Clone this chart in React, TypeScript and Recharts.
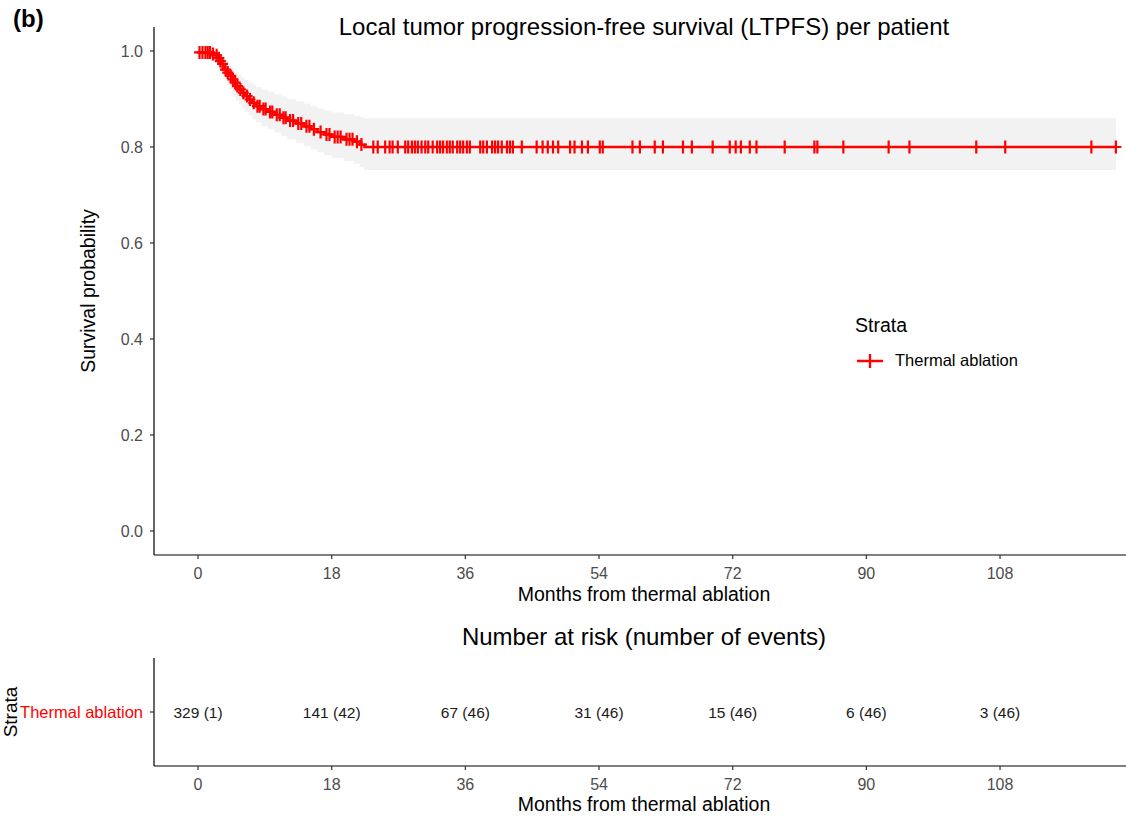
import { ComposedChart, Line, Area, Scatter, XAxis, YAxis } from 'recharts'

const FONT = '"Liberation Sans", Arial, Helvetica, sans-serif'
const RED = '#ff0000'
const TICK_GREY = '#4d4d4d'

// Kaplan-Meier steps (months, survival, CI upper, CI lower)
const stepTimes = [0, 1.8, 2.3, 2.6, 2.9, 3.2, 3.4, 3.6, 3.9, 4.2, 4.5, 4.8, 5.1, 5.5, 5.9, 6.3, 6.8, 7.3, 7.8, 8.5, 9.4, 10.3, 11.2, 12.0, 13.2, 14.3, 15.2, 16.1, 17.0, 18.0, 19.6, 21.0, 21.8, 22.4]
const survival = [0.997, 0.994, 0.991, 0.985, 0.979, 0.973, 0.967, 0.961, 0.955, 0.948, 0.941, 0.934, 0.927, 0.920, 0.913, 0.906, 0.899, 0.892, 0.885, 0.879, 0.873, 0.867, 0.861, 0.855, 0.849, 0.843, 0.837, 0.831, 0.826, 0.821, 0.816, 0.811, 0.805, 0.800]
const upperCI = [1.0, 1.0, 0.999, 0.997, 0.994, 0.990, 0.986, 0.982, 0.977, 0.971, 0.966, 0.960, 0.955, 0.950, 0.945, 0.940, 0.935, 0.930, 0.925, 0.920, 0.915, 0.910, 0.905, 0.900, 0.895, 0.890, 0.885, 0.880, 0.876, 0.872, 0.868, 0.865, 0.862, 0.860]
const lowerCI = [0.990, 0.985, 0.979, 0.970, 0.961, 0.953, 0.945, 0.937, 0.929, 0.921, 0.913, 0.905, 0.897, 0.889, 0.881, 0.873, 0.866, 0.858, 0.851, 0.844, 0.837, 0.830, 0.823, 0.816, 0.809, 0.802, 0.795, 0.789, 0.783, 0.777, 0.771, 0.765, 0.758, 0.752]
const lastFollowUp = 123.6

// censoring times (months)
const censorTimes = [
  0.2, 0.6, 1.0, 1.3, 1.6, 2.0, 2.5, 2.8, 3.0, 3.3, 3.7, 4.0, 4.4, 4.7, 5.0, 5.3, 5.7, 6.1, 6.6, 7.0,
  7.5, 8.0, 8.3, 8.8, 9.1, 9.7, 10.0, 10.6, 11.0, 11.5, 11.8, 12.4, 12.8, 13.5, 13.9, 14.6, 15.0, 15.6,
  16.5, 17.3, 17.7, 18.4, 18.8, 19.2, 20.0, 20.4, 20.8, 21.4, 22.0,
  23.6, 24.2, 25.2, 25.8, 26.2, 26.9, 27.9, 28.3, 28.8, 29.2, 29.6, 30.1, 30.6, 31.0, 31.6, 32.2, 32.6,
  33.0, 33.5, 33.9, 34.3, 34.9, 35.3, 35.7, 36.2, 36.6, 38.0, 38.4, 38.9, 39.6, 40.0, 40.4, 40.9, 41.6,
  42.0, 42.4, 43.6, 45.6, 46.4, 47.1, 47.8, 48.5, 50.1, 50.7, 51.7, 52.5, 54.1, 54.5, 58.5, 59.5, 61.5,
  62.6, 65.3, 66.5, 69.3, 71.6, 72.4, 73.1, 74.3, 75.2, 79.0, 83.0, 83.4, 86.9, 93.0, 95.8, 104.8,
  108.7, 120.3, 123.6,
]

const xTicks = [0, 18, 36, 54, 72, 90, 108]
const yTicks = [0, 0.2, 0.4, 0.6, 0.8, 1.0]
const X_DOMAIN = [-5.93, 126.04]

const strataName = 'Thermal ablation'
const riskTimes = [0, 18, 36, 54, 72, 90, 108]
const nAtRisk = [329, 141, 67, 31, 15, 6, 3]
const nEvents = [1, 42, 46, 46, 46, 46, 46]

function survAt(t: number): number {
  let s = survival[0]
  for (let i = 0; i < stepTimes.length; i++) {
    if (stepTimes[i] <= t) s = survival[i]
  }
  return s
}

const curveData = [
  ...stepTimes.map((t, i) => ({ t, s: survival[i], band: [lowerCI[i], upperCI[i]] })),
  {
    t: lastFollowUp,
    s: survival[survival.length - 1],
    band: [lowerCI[lowerCI.length - 1], upperCI[upperCI.length - 1]],
  },
]
const censorData = censorTimes.map((t) => ({ t, s: survAt(t) }))
const riskData = riskTimes.map((t, i) => ({ t, strata: strataName, label: `${nAtRisk[i]} (${nEvents[i]})` }))

function PlusMark(props: any) {
  const { cx, cy } = props
  if (cx == null || cy == null) return null
  return (
    <path
      d={`M${cx - 5.5},${cy}H${cx + 5.5}M${cx},${cy - 6.5}V${cy + 6.5}`}
      stroke={RED}
      strokeWidth={2.2}
      fill="none"
    />
  )
}

function RiskText(props: any) {
  const { cx, cy, payload } = props
  return (
    <text x={cx} y={cy + 6} textAnchor="middle" fontSize={15.5} fill="#1a1a1a" fontFamily={FONT}>
      {payload.label}
    </text>
  )
}

const axisLine = { stroke: '#000', strokeWidth: 1.2 }
const tickLine = { stroke: '#333', strokeWidth: 1.2 }

export default function App() {
  return (
    <div
      style={{
        position: 'absolute',
        left: 0,
        top: 0,
        width: 1126,
        height: 819,
        overflow: 'hidden',
        background: '#fff',
        fontFamily: FONT,
      }}
    >
      <div style={{ position: 'absolute', left: 0, top: 0 }}>
        <ComposedChart width={1134} height={610} margin={{ top: 27, right: 0, bottom: 0, left: 0 }}>
          <XAxis
            type="number"
            dataKey="t"
            domain={X_DOMAIN}
            allowDataOverflow
            ticks={xTicks}
            interval={0}
            tickSize={4}
            tickMargin={9}
            height={55}
            axisLine={axisLine}
            tickLine={tickLine}
            tick={{ fill: TICK_GREY, fontSize: 16, fontFamily: FONT }}
            label={{ value: 'Months from thermal ablation', position: 'insideBottom', offset: 9, fill: '#000', fontSize: 19.5, fontFamily: FONT }}
          />
          <YAxis
            type="number"
            domain={[-0.05, 1.05]}
            allowDataOverflow
            ticks={yTicks}
            interval={0}
            width={154}
            tickSize={4}
            tickMargin={7}
            tickFormatter={(v: number) => v.toFixed(1)}
            axisLine={axisLine}
            tickLine={tickLine}
            tick={{ fill: TICK_GREY, fontSize: 16, fontFamily: FONT }}
            label={{ value: 'Survival probability', angle: -90, position: 'insideLeft', offset: 88, fill: '#000', fontSize: 19.5, fontFamily: FONT, style: { textAnchor: 'middle' } }}
          />
          <Area
            data={curveData}
            dataKey="band"
            type="stepAfter"
            stroke="none"
            fill="#f2f2f2"
            fillOpacity={1}
            isAnimationActive={false}
          />
          <Line
            data={curveData}
            dataKey="s"
            type="stepAfter"
            stroke={RED}
            strokeWidth={2.3}
            dot={false}
            activeDot={false}
            isAnimationActive={false}
          />
          <Scatter data={censorData} dataKey="s" shape={PlusMark} isAnimationActive={false} />
        </ComposedChart>
      </div>

      <div style={{ position: 'absolute', left: 0, top: 640 }}>
        <ComposedChart width={1134} height={179} margin={{ top: 18, right: 0, bottom: 0, left: 0 }}>
          <XAxis
            type="number"
            dataKey="t"
            domain={X_DOMAIN}
            allowDataOverflow
            ticks={xTicks}
            interval={0}
            tickSize={4}
            tickMargin={9}
            height={53}
            axisLine={axisLine}
            tickLine={tickLine}
            tick={{ fill: TICK_GREY, fontSize: 16, fontFamily: FONT }}
            label={{ value: 'Months from thermal ablation', position: 'insideBottom', offset: 8, fill: '#000', fontSize: 19.5, fontFamily: FONT }}
          />
          <YAxis
            type="category"
            dataKey="strata"
            allowDuplicatedCategory={false}
            width={154}
            tickSize={4}
            tickMargin={7}
            axisLine={axisLine}
            tickLine={tickLine}
            tick={{ fill: RED, fontSize: 16.5, fontFamily: FONT }}
            label={{ value: 'Strata', angle: -90, position: 'insideLeft', offset: 10, fill: '#000', fontSize: 19, fontFamily: FONT, style: { textAnchor: 'middle' } }}
          />
          <Scatter data={riskData} shape={RiskText} isAnimationActive={false} />
        </ComposedChart>
      </div>

      <svg
        width={1126}
        height={819}
        style={{ position: 'absolute', left: 0, top: 0, pointerEvents: 'none' }}
        fontFamily={FONT}
      >
        <text x={13} y={27} fontSize={24} fontWeight="bold" fill="#000">(b)</text>
        <text x={644} y={35} fontSize={24} textAnchor="middle" fill="#000">
          Local tumor progression-free survival (LTPFS) per patient
        </text>
        <text x={855} y={332} fontSize={19.5} fill="#000">Strata</text>
        <path d="M857,361H883M870,354V368" stroke={RED} strokeWidth={2.3} fill="none" />
        <text x={895} y={366} fontSize={16.5} fill="#000">Thermal ablation</text>
        <text x={644} y={645} fontSize={24} textAnchor="middle" fill="#000">
          Number at risk (number of events)
        </text>
      </svg>
    </div>
  )
}
